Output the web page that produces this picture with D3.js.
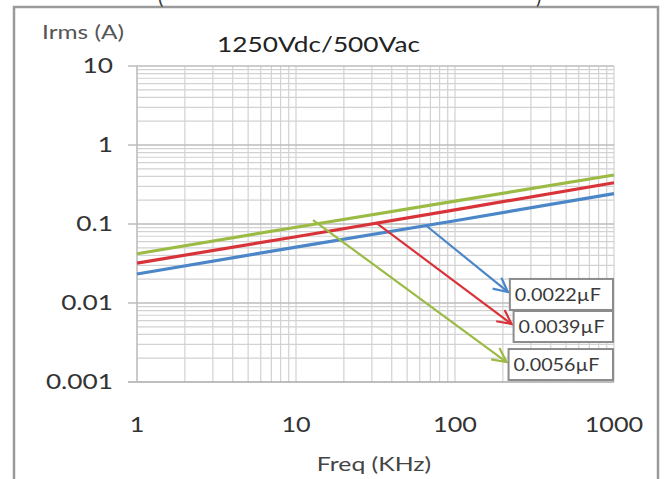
<!DOCTYPE html>
<html><head><meta charset="utf-8">
<script src="https://cdn.jsdelivr.net/npm/d3@7"></script>
<style>body{margin:0;background:#fff}svg{display:block}</style>
</head><body><svg id="c" width="664" height="479"></svg>
<script>
// ---- data ----
const freqs = [1, 10, 100, 1000];
const irmsBlue  = [0.0233, 0.051, 0.11, 0.242];   // 0.0022µF
const irmsRed   = [0.032, 0.069, 0.151, 0.333];   // 0.0039µF
const irmsGreen = [0.042, 0.091, 0.195, 0.417];   // 0.0056µF
const seriesNames = ["0.0022\u00b5F", "0.0039\u00b5F", "0.0056\u00b5F"];
const seriesColors = ["#4a86c8", "#d9333a", "#9bbb45"];
const arrowFrom = [[66, 0.095], [31.8, 0.104], [12.8, 0.112]];
const arrowTo   = [[215, 0.0138], [227, 0.00542], [211, 0.00179]];
const xTicks = [1, 10, 100, 1000];
const xTickLabels = ["1", "10", "100", "1000"];
const yTicks = [0.001, 0.01, 0.1, 1, 10];
const yTickLabels = ["0.001", "0.01", "0.1", "1", "10"];
const title = "1250Vdc/500Vac";
const yTitle = "Irms (A)";
const xTitle = "Freq (KHz)";

const svg = d3.select("#c");
const font = "Lato, 'Open Sans', sans-serif";
const x = d3.scaleLog().domain([1, 1000]).range([137, 614]);
const y = d3.scaleLog().domain([0.001, 10]).range([382, 66]);
const stretch = (sel, k) => sel.each(function () {
  const w = this.getComputedTextLength();
  d3.select(this).attr("textLength", w * k).attr("lengthAdjust", "spacingAndGlyphs");
});

// outer frame
svg.append("rect").attr("x", 14).attr("y", 7).attr("width", 644).attr("height", 490)
  .attr("fill", "none").attr("stroke", "#9a9a9a").attr("stroke-width", 2.5);
// cut-off caption brackets above
svg.append("text").attr("x", 158).attr("y", 4).attr("font-family", font).attr("font-size", 20).attr("fill", "#333").text("(");
svg.append("text").attr("x", 536).attr("y", 4).attr("font-family", font).attr("font-size", 20).attr("fill", "#333").text(")");

// grid
const g = svg.append("g");
const minorX = [], minorY = [];
for (let d = 1; d < 1000; d *= 10) for (let k = 2; k <= 9; k++) minorX.push(d * k);
for (let d = 0.001; d < 9; d *= 10) for (let k = 2; k <= 9; k++) minorY.push(d * k);
g.selectAll(".mx").data(minorX.concat([10, 100, 1000])).join("line")
  .attr("x1", d => x(d)).attr("x2", d => x(d)).attr("y1", y(10)).attr("y2", y(0.001))
  .attr("stroke", "#d2d2d2").attr("stroke-width", 1.2);
g.selectAll(".my").data(minorY).join("line")
  .attr("x1", x(1)).attr("x2", x(1000)).attr("y1", d => y(d)).attr("y2", d => y(d))
  .attr("stroke", "#d2d2d2").attr("stroke-width", 1.2);
g.selectAll(".My").data(yTicks).join("line")
  .attr("x1", x(1) - 9).attr("x2", x(1000)).attr("y1", d => y(d)).attr("y2", d => y(d))
  .attr("stroke", d => d === 0.001 ? "#a8a8a8" : "#bdbdbd").attr("stroke-width", 1.6);
g.append("line").attr("x1", x(1)).attr("x2", x(1)).attr("y1", y(10)).attr("y2", y(0.001))
  .attr("stroke", "#bdbdbd").attr("stroke-width", 1.6);

// series
const line = d3.line().x(d => x(d[0])).y(d => y(d[1]));
[irmsBlue, irmsRed, irmsGreen].forEach((vals, i) => {
  svg.append("path").datum(freqs.map((f, j) => [f, vals[j]]))
    .attr("d", line).attr("fill", "none").attr("stroke", seriesColors[i]).attr("stroke-width", 3.2);
});

// arrows
const defs = svg.append("defs");
seriesColors.forEach((c, i) => {
  defs.append("marker").attr("id", "ah" + i).attr("viewBox", "-16 -9 18 18")
    .attr("refX", 0).attr("refY", 0).attr("markerWidth", 18).attr("markerHeight", 18)
    .attr("markerUnits", "userSpaceOnUse").attr("orient", "auto")
    .append("path").attr("d", "M-14,-7 L0,0 L-14,7").attr("fill", "none")
    .attr("stroke", c).attr("stroke-width", 2.2);
});
arrowFrom.forEach((p, i) => {
  svg.append("line").attr("x1", x(p[0])).attr("y1", y(p[1]))
    .attr("x2", x(arrowTo[i][0])).attr("y2", y(arrowTo[i][1]))
    .attr("stroke", seriesColors[i]).attr("stroke-width", 2.2)
    .attr("marker-end", "url(#ah" + i + ")");
});

// label boxes
seriesNames.forEach((n, i) => {
  const bx = x(arrowTo[i][0]) + 2, by = y(arrowTo[i][1]) - 13;
  svg.append("rect").attr("x", bx).attr("y", by).attr("width", 613 - bx).attr("height", 31)
    .attr("fill", "#fff").attr("stroke", "#8c8c8c").attr("stroke-width", 2);
  svg.append("text").attr("x", bx + 5).attr("y", by + 22).attr("font-family", font)
    .attr("font-size", 17).attr("fill", "#3a3a3a").attr("textLength", 86)
    .attr("lengthAdjust", "spacingAndGlyphs").text(n);
});

// tick labels
svg.selectAll(".yt").data(yTicks).join("text")
  .attr("x", 113).attr("y", d => y(d) + 7).attr("text-anchor", "end")
  .attr("font-family", font).attr("font-size", 21).attr("fill", "#333")
  .text((d, i) => yTickLabels[i]).call(stretch, 1.25);
svg.selectAll(".xt").data(xTicks).join("text")
  .attr("x", d => x(d)).attr("y", 432).attr("text-anchor", "middle")
  .attr("font-family", font).attr("font-size", 21).attr("fill", "#333")
  .text((d, i) => xTickLabels[i]).call(stretch, 1.2);

// titles
svg.append("text").attr("x", 42).attr("y", 39).attr("font-family", font).attr("font-size", 20)
  .attr("fill", "#555").text(yTitle).call(stretch, 1.22);
svg.append("text").attr("x", 217).attr("y", 52).attr("font-family", font).attr("font-size", 22)
  .attr("fill", "#222").attr("textLength", 203).attr("lengthAdjust", "spacingAndGlyphs").text(title);
svg.append("text").attr("x", 374).attr("y", 471).attr("text-anchor", "middle").attr("font-family", font)
  .attr("font-size", 20).attr("fill", "#444").text(xTitle).call(stretch, 1.24);
</script></body></html>
